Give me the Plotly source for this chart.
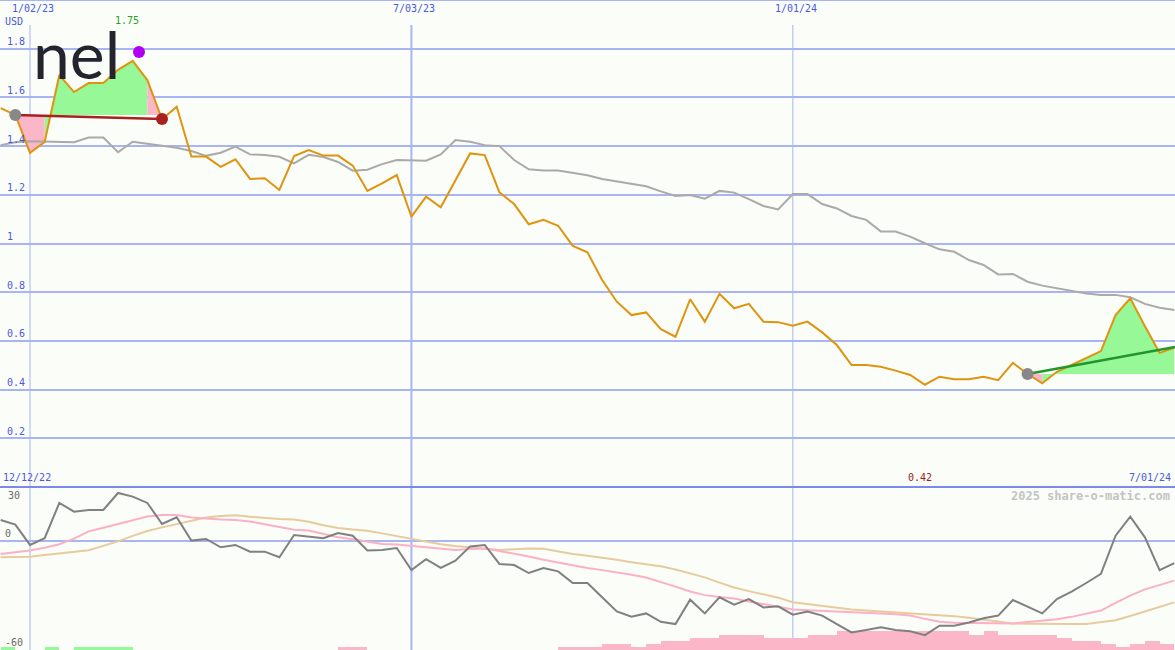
import pandas as pd
import plotly.graph_objects as go

# ---------------- data ----------------
dates = pd.date_range("2022-12-19", periods=81, freq="7D")

price = [1.556, 1.528, 1.372, 1.417, 1.692, 1.622, 1.659, 1.659, 1.713, 1.750,
         1.671, 1.510, 1.562, 1.357, 1.357, 1.315, 1.346, 1.265, 1.268, 1.220,
         1.359, 1.384, 1.361, 1.361, 1.320, 1.216, 1.247, 1.281, 1.110, 1.192,
         1.149, 1.261, 1.370, 1.363, 1.210, 1.162, 1.079, 1.097, 1.073, 0.990,
         0.964, 0.850, 0.761, 0.706, 0.717, 0.648, 0.617, 0.771, 0.679, 0.793,
         0.734, 0.752, 0.679, 0.677, 0.662, 0.679, 0.635, 0.583, 0.501, 0.501,
         0.494, 0.478, 0.460, 0.420, 0.453, 0.443, 0.443, 0.453, 0.439, 0.510,
         0.464, 0.426, 0.473, 0.501, 0.528, 0.558, 0.706, 0.775, 0.660, 0.551,
         0.572]

index_line = [1.404, 1.416, 1.420, 1.418, 1.416, 1.416, 1.435, 1.435, 1.375, 1.418,
              1.410, 1.403, 1.393, 1.380, 1.360, 1.373, 1.398, 1.366, 1.363, 1.356,
              1.329, 1.364, 1.355, 1.335, 1.299, 1.303, 1.326, 1.343, 1.340, 1.340,
              1.366, 1.425, 1.418, 1.404, 1.400, 1.343, 1.305, 1.300, 1.300, 1.290,
              1.280, 1.265, 1.255, 1.245, 1.235, 1.214, 1.195, 1.199, 1.184, 1.216,
              1.209, 1.182, 1.154, 1.140, 1.203, 1.203, 1.162, 1.144, 1.113, 1.097,
              1.049, 1.049, 1.028, 1.001, 0.976, 0.966, 0.932, 0.912, 0.873, 0.875,
              0.843, 0.827, 0.816, 0.805, 0.795, 0.789, 0.789, 0.779, 0.752, 0.736,
              0.727]

momentum = [11.8, 9.2, -2.0, 1.7, 21.2, 16.4, 17.3, 17.3, 26.7, 24.7,
            21.2, 9.6, 13.3, 0.4, 1.3, -3.3, -2.0, -5.7, -5.7, -8.8,
            3.5, 2.8, 1.7, 4.6, 3.1, -5.1, -4.8, -3.7, -15.8, -9.8,
            -14.7, -10.7, -2.8, -2.0, -12.5, -13.1, -17.5, -14.7, -16.6, -23.0,
            -23.0, -30.9, -38.7, -41.6, -39.8, -44.4, -45.7, -32.2, -39.8, -30.9,
            -35.0, -31.9, -36.5, -35.9, -40.5, -38.7, -41.0, -45.7, -50.3, -49.0,
            -47.5, -49.0, -49.7, -51.8, -46.6, -46.6, -44.8, -42.5, -41.0, -32.4,
            -36.1, -39.8, -31.9, -27.8, -23.0, -18.0, 3.1, 13.6, 2.2, -15.9,
            -12.0]

ma_fast = [-7.0, -6.0, -5.1, -3.5, -1.6, 1.5, 5.5, 7.5, 9.7, 11.7,
           13.7, 14.6, 14.5, 13.2, 12.4, 12.0, 11.8, 11.0, 9.4, 7.8,
           6.4, 6.0, 4.2, 2.3, 1.1, -0.2, -1.5, -1.8, -2.6, -3.6,
           -4.3, -4.8, -4.3, -4.0, -5.3, -6.7, -8.4, -10.2, -11.8, -13.4,
           -14.7, -15.9, -17.1, -18.5, -20.0, -22.4, -25.0, -27.7, -29.7, -30.7,
           -31.6, -33.2, -34.7, -36.2, -37.6, -38.1, -38.4, -38.6, -38.9, -39.4,
           -39.8, -40.3, -40.9, -42.8, -44.4, -44.9, -45.1, -45.3, -45.3, -45.3,
           -44.6, -44.0, -43.0, -41.7, -40.0, -38.2, -34.0, -30.0, -26.5, -24.0,
           -21.7]

ma_slow = [-8.8, -8.7, -8.5, -7.6, -6.6, -5.7, -4.9, -2.5, 0.0, 3.0,
           5.7, 7.7, 9.6, 11.6, 13.2, 14.0, 14.4, 13.6, 12.8, 12.4,
           12.0, 10.8, 8.9, 7.4, 6.6, 5.9, 4.4, 2.9, 1.0, -0.5,
           -1.6, -2.6, -3.4, -4.1, -4.8, -4.4, -4.0, -4.1, -5.7, -7.0,
           -8.0, -9.0, -10.2, -11.5, -12.7, -13.8, -15.5, -17.6, -19.9, -22.8,
           -25.5, -27.5, -29.4, -31.1, -33.6, -34.7, -35.7, -36.7, -37.6, -38.2,
           -38.7, -39.2, -39.7, -40.2, -40.7, -41.3, -42.2, -43.1, -44.2, -45.3,
           -45.5, -45.7, -45.7, -45.7, -45.6, -44.6, -43.6, -41.2, -38.7, -36.2,
           -33.7]

signal = [1.7, 0, 0, 1.7, 0, 1.7, 1.7, 1.7, 1.7, 0,
          0, 0, 0, 0, 0, 0, 0, 0, 0, 0,
          0, 0, 0, -1.7, -1.7, 0, 0, 0, 0, 0,
          0, 0, 0, 0, 0, 0, 0, 0, -1.7, -1.7,
          -1.7, -3.5, -3.5, -1.7, -3.5, -5.0, -5.0, -6.6, -6.6, -8.5,
          -8.5, -8.5, -6.6, -6.6, -6.6, -8.5, -8.5, -10.5, -10.5, -10.5,
          -10.5, -10.5, -10.5, -10.5, -10.5, -10.5, -8.5, -10.5, -8.5, -8.5,
          -8.5, -8.5, -6.6, -5.0, -5.0, -3.5, -1.7, -3.5, -5.0, -3.5,
          0]

trend1_idx = [1, 11]
trend1_val = [1.528, 1.511]
trend2_idx = [70, 80]
trend2_val = [0.464, 0.575]

grid_dates = ["2023-01-02", "2023-07-03", "2024-01-01"]
grid_labels = ["1/02/23", "7/03/23", "1/01/24"]
price_ticks = [0.2, 0.4, 0.6, 0.8, 1.0, 1.2, 1.4, 1.6, 1.8]
price_ticktext = ["0.2", "0.4", "0.6", "0.8", "1", "1.2", "1.4", "1.6", "1.8"]
osc_labels = [30, 0, -60]
x_range = ["2022-12-18 16:30", "2024-07-01 08:24"]
left_label = "12/12/22"
right_label = "7/01/24"

# ---------------- style ----------------
BG = "#fbfdf8"
GRID = "#a9b5f2"
DIV = "#7c88ea"
BLUE = "#4a5ae0"
MONO = "DejaVu Sans Mono"
GREEN_F = "#96f896"
PINK_F = "#fbb6c8"
ORANGE = "#de9410"
split = 163 / 650

fig = go.Figure()

# ---- filled gain/loss areas ----
def polys(i0, i1, base):
    g = ([], [])
    p = ([], [])
    for i in range(i0, i1):
        xs = [dates[i], dates[i], dates[i + 1], dates[i + 1], dates[i], None]
        ys = [base, price[i], price[i + 1], base, base, None]
        tgt = g if price[i + 1] >= base else p
        tgt[0].extend(xs)
        tgt[1].extend(ys)
    return g, p

for (i0, i1) in [(trend1_idx[0], trend1_idx[1]), (trend2_idx[0], trend2_idx[1])]:
    g, p = polys(i0, i1, price[i0])
    for (xx, yy), col in [(g, GREEN_F), (p, PINK_F)]:
        if xx:
            fig.add_trace(go.Scatter(x=xx, y=yy, mode="lines", fill="toself",
                                     fillcolor=col, line=dict(width=0, color=col),
                                     hoverinfo="skip", showlegend=False,
                                     xaxis="x", yaxis="y"))

# ---- top lines ----
fig.add_trace(go.Scatter(x=dates, y=index_line, mode="lines",
                         line=dict(color="#aaaaaa", width=2), showlegend=False))
fig.add_trace(go.Scatter(x=dates, y=price, mode="lines",
                         line=dict(color=ORANGE, width=2), showlegend=False))
fig.add_trace(go.Scatter(x=[dates[i] for i in trend1_idx], y=trend1_val, mode="lines",
                         line=dict(color="#a82020", width=2.5), showlegend=False))
fig.add_trace(go.Scatter(x=[dates[trend2_idx[0]], pd.Timestamp(x_range[1])], y=trend2_val,
                         mode="lines", line=dict(color="#22962a", width=2.5), showlegend=False))
fig.add_trace(go.Scatter(x=[dates[trend1_idx[0]], dates[trend2_idx[0]]],
                         y=[price[trend1_idx[0]], price[trend2_idx[0]]], mode="markers",
                         marker=dict(color="#888888", size=12), showlegend=False))
fig.add_trace(go.Scatter(x=[dates[trend1_idx[1]]], y=[trend1_val[1]], mode="markers",
                         marker=dict(color="#a82020", size=12), showlegend=False))

# ---- bottom panel ----
bar_col = [GREEN_F if s > 0 else PINK_F for s in signal]
fig.add_trace(go.Bar(x=dates, y=[abs(s) for s in signal], base=-60, offset=0,
                     width=7 * 86400000, marker=dict(color=bar_col, line=dict(width=0)),
                     xaxis="x2", yaxis="y2", showlegend=False))
fig.add_trace(go.Scatter(x=dates, y=ma_slow, mode="lines", line=dict(color="#e6cc9c", width=2),
                         xaxis="x2", yaxis="y2", showlegend=False))
fig.add_trace(go.Scatter(x=dates, y=ma_fast, mode="lines", line=dict(color="#fbb0c6", width=2),
                         xaxis="x2", yaxis="y2", showlegend=False))
fig.add_trace(go.Scatter(x=dates, y=momentum, mode="lines", line=dict(color="#808080", width=2),
                         xaxis="x2", yaxis="y2", showlegend=False))

# ---- shapes ----
shapes = []
for d, lab in zip(grid_dates, grid_labels):
    shapes.append(dict(type="line", xref="x", yref="paper", x0=d, x1=d, y0=0, y1=1 - 25 / 650,
                       line=dict(color=GRID, width=2 if d.startswith("2023-07") else 1),
                       layer="below"))
shapes.append(dict(type="line", xref="paper", yref="paper", x0=0, x1=1, y0=split, y1=split,
                   line=dict(color=DIV, width=2)))
shapes.append(dict(type="line", xref="paper", yref="paper", x0=0, x1=1, y0=1, y1=1,
                   line=dict(color=GRID, width=2)))
# logo dot
shapes.append(dict(type="circle", xref="paper", yref="paper",
                   x0=133 / 1175, x1=145 / 1175, y0=1 - 58 / 650, y1=1 - 46 / 650,
                   fillcolor="#b000f2", line=dict(width=0)))

# ---- annotations ----
ann = []
for d, lab in zip(grid_dates, grid_labels):
    ann.append(dict(x=d, xref="x", y=1, yref="paper", text=lab, showarrow=False,
                    xanchor="center", yanchor="top", xshift=3, yshift=-1,
                    font=dict(family=MONO, size=10, color=BLUE)))
ann.append(dict(x=0, xref="paper", y=1, yref="paper", text="USD", showarrow=False,
                xanchor="left", yanchor="top", xshift=3, yshift=-14,
                font=dict(family=MONO, size=10, color=BLUE)))
imax = price.index(max(price))
imin = price.index(min(price))
ann.append(dict(x=dates[imax], xref="x", y=1 - 20 / 650, yref="paper", text=f"{max(price):.2f}",
                showarrow=False, xanchor="center", yanchor="middle", xshift=-6,
                font=dict(family=MONO, size=10, color="#22a022")))
ann.append(dict(x=dates[imin], xref="x", y=(650 - 478) / 650, yref="paper", text=f"{min(price):.2f}",
                showarrow=False, xanchor="center", yanchor="middle", xshift=-5,
                font=dict(family=MONO, size=10, color="#a02020")))
ann.append(dict(x=0, xref="paper", y=split, yref="paper", text=left_label, showarrow=False,
                xanchor="left", yanchor="bottom", xshift=1, yshift=2,
                font=dict(family=MONO, size=10, color=BLUE)))
ann.append(dict(x=1, xref="paper", y=split, yref="paper", text=right_label, showarrow=False,
                xanchor="right", yanchor="bottom", xshift=-2, yshift=2,
                font=dict(family=MONO, size=10, color=BLUE)))
ann.append(dict(x=1, xref="paper", y=(650 - 496) / 650, yref="paper",
                text="<b>2025 share-o-matic.com</b>", showarrow=False,
                xanchor="right", yanchor="middle", xshift=-3,
                font=dict(family=MONO, size=12, color="#c4c4c4")))
for v in osc_labels:
    ann.append(dict(x=0, xref="paper", y=v, yref="y2", text=str(v), showarrow=False,
                    xanchor="left", yanchor="top" if v == max(osc_labels) else "bottom",
                    xshift=3 if v != 30 else 6, yshift=-1 if v == max(osc_labels) else 0,
                    font=dict(family=MONO, size=10, color="#6a6a6a")))
# logo text
ann.append(dict(x=31 / 1175, xref="paper", y=1 - 95 / 650, yref="paper", text="nel",
                showarrow=False, xanchor="left", yanchor="bottom",
                font=dict(family="Lato", size=66, color="#24242e")))

fig.update_layout(
    width=1175, height=650, margin=dict(l=0, r=0, t=0, b=0),
    paper_bgcolor=BG, plot_bgcolor=BG, showlegend=False, bargap=0,
    shapes=shapes, annotations=ann,
    xaxis=dict(domain=[0, 1], range=x_range, type="date", visible=False, anchor="y"),
    xaxis2=dict(domain=[0, 1], range=x_range, type="date", visible=False, anchor="y2",
                matches="x"),
    yaxis=dict(domain=[split, 1], range=[0, 2.0], tickvals=price_ticks, ticktext=price_ticktext,
               showgrid=True, gridcolor=GRID, gridwidth=2, zeroline=False, showline=False,
               ticks="", ticklabelposition="inside top", ticklabelstandoff=4,
               tickfont=dict(family=MONO, size=10, color=BLUE), anchor="x"),
    yaxis2=dict(domain=[0, split], range=[-60, 30], tickvals=[0], showticklabels=False,
                showgrid=True, gridcolor=GRID, gridwidth=2, zeroline=False, showline=False,
                ticks="", anchor="x2"),
)

fig.write_html("out.html", config={"displayModeBar": False},
               post_script="document.body.style.margin='0';document.body.style.overflow='hidden';")
